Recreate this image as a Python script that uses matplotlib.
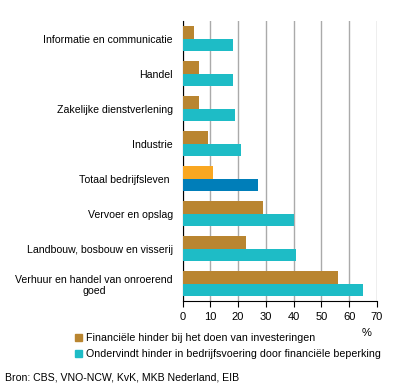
import matplotlib
matplotlib.use("Agg")
import matplotlib.pyplot as plt
import matplotlib.patches as mpatches
import numpy as np

plt.rcParams["font.family"] = ["Liberation Sans", "DejaVu Sans"]

categories = [
    "Informatie en communicatie",
    "Handel",
    "Zakelijke dienstverlening",
    "Industrie",
    "Totaal bedrijfsleven ",
    "Vervoer en opslag",
    "Landbouw, bosbouw en visserij",
    "Verhuur en handel van onroerend\ngoed",
]
investeringen = [4, 6, 6, 9, 11, 29, 23, 56]
bedrijfsvoering = [18, 18, 19, 21, 27, 40, 41, 65]
xticks = [0, 10, 20, 30, 40, 50, 60, 70]

BROWN = "#B98530"
CYAN = "#1EBCC6"
ORANGE = "#F9A721"
BLUE = "#007EB9"
TOTAL = "Totaal bedrijfsleven "

fig = plt.figure(figsize=(3.96, 3.91), dpi=100)
ax = fig.add_axes([0.461, 0.230, 0.491, 0.716])

y = np.arange(len(categories))
h = 0.36
c1 = [ORANGE if c == TOTAL else BROWN for c in categories]
c2 = [BLUE if c == TOTAL else CYAN for c in categories]
ax.barh(y - h / 2, investeringen, height=h, color=c1, zorder=3)
ax.barh(y + h / 2, bedrijfsvoering, height=h, color=c2, zorder=3)

ax.set_ylim(len(categories) - 0.5, -0.5)
ax.set_xlim(0, 70)
ax.set_xticks(xticks)
ax.set_xticklabels([str(v) for v in xticks], fontsize=8)
ax.set_yticks(y)
ax.set_yticklabels(categories, fontsize=7.6, multialignment="center")
ax.tick_params(axis="y", length=0, pad=7)
ax.tick_params(axis="x", length=4, color="black", pad=4)
ax.grid(axis="x", color="#AAAAAA", linewidth=1, zorder=0)
ax.set_axisbelow(True)
for s in ["top", "right"]:
    ax.spines[s].set_visible(False)
ax.spines["left"].set_color("black")
ax.spines["bottom"].set_color("black")

fig.text(367 / 396, 1 - 333 / 391, "%", fontsize=8, ha="center", va="center")

handles = [
    mpatches.Patch(color=BROWN, label="Financiële hinder bij het doen van investeringen"),
    mpatches.Patch(color=CYAN, label="Ondervindt hinder in bedrijfsvoering door financiële beperking"),
]
fig.legend(handles=handles, loc="upper left", bbox_to_anchor=(75 / 396, 1 - 333 / 391),
           frameon=False, fontsize=7.7, handlelength=0.7, handleheight=0.7,
           handletextpad=0.3, labelspacing=0.6, borderpad=0, borderaxespad=0)

fig.text(5 / 396, 1 - 378 / 391, "Bron: CBS, VNO-NCW, KvK, MKB Nederland, EIB",
         fontsize=7.6, ha="left", va="center")

fig.savefig("out.png", dpi=100)
